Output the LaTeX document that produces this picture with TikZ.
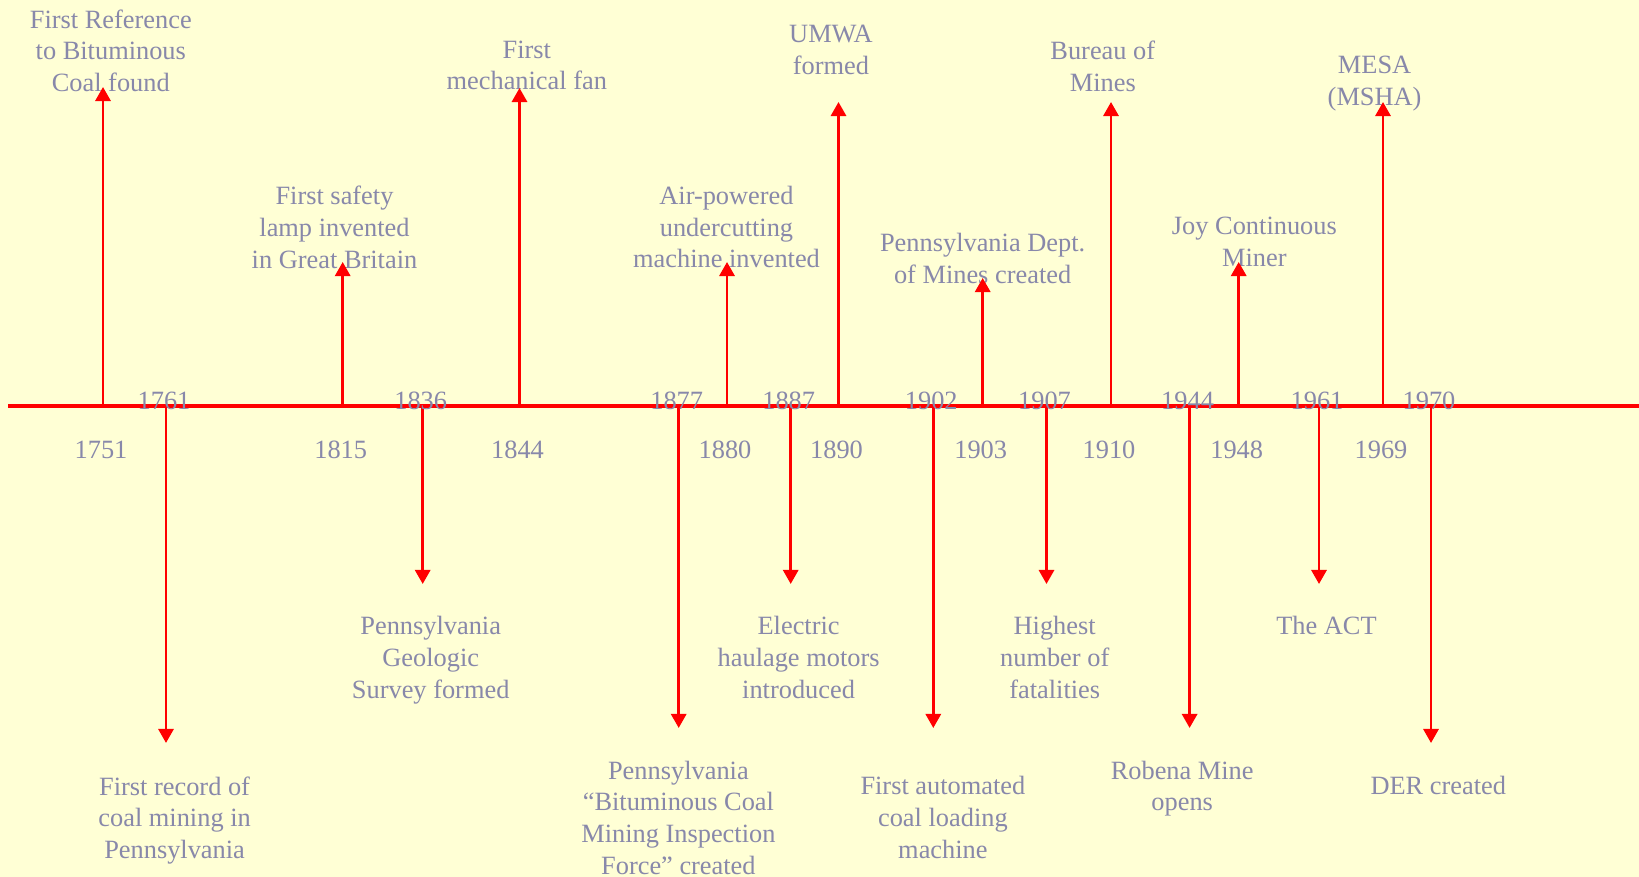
\documentclass[tikz,border=0pt]{standalone}
\usepackage{fontspec}
\setmainfont{Liberation Serif}
\usetikzlibrary{arrows.meta}
\definecolor{paper}{HTML}{FFFFD5}
\definecolor{ink}{HTML}{8888AA}
\tikzset{
	axis/.style = {draw = red, line width = 1.35pt},
	tick/.style = {draw = red, line width = 0.8pt, -{Triangle[length = 4pt, width = 4.3pt]}},
	event/.style = {text = ink, align = center, inner sep = 0pt, anchor = north, font = \fontsize{7.5}{9}\selectfont},
	year/.style = {text = ink, inner sep = 0pt, anchor = base, font = \fontsize{7.5}{9}\selectfont}
}
\begin{document}
\begin{tikzpicture}[x = 0.01cm, y = -0.01cm]
		\fill[paper] (0,0) rectangle (1639,877);
		\useasboundingbox (0,0) rectangle (1639,877);
		\coordinate (start) at (8,406);
		\coordinate (end) at (1639,406);
		\draw[axis] (start) -- (end);
		\foreach \yr/\x/\tip/\lx/\ly/\txt in {
			1751/103/87/110.8/8.8/{First Reference\\to Bituminous\\Coal found},
			1815/342.7/262/334.5/185.5/{First safety\\lamp invented\\in Great Britain},
			1844/519.5/88/526.8/40.1/{First\\mechanical fan},
			1880/727/262/726.5/185.5/{Air-powered\\undercutting\\machine invented},
			1890/838.5/102/831/24.5/{UMWA\\formed},
			1903/982.7/278/982.6/232.5/{Pennsylvania Dept.\\of Mines created},
			1910/1111/102/1102.8/40.1/{Bureau of\\Mines},
			1948/1238.7/262/1254.4/216.8/{Joy Continuous\\Miner},
			1969/1383/102/1374.6/55.8/{MESA\\(MSHA)}}{
			\coordinate (a\yr) at (\x, 406);
			\coordinate (t\yr) at (\x, \tip);
			\node[event] (l\yr) at (\lx, \ly) {\txt};
			\draw[tick] (a\yr) -- (t\yr);
			\node[year] (y\yr) at (\x - 2, 459) {\yr};
			}
		\foreach \yr/\x/\tip/\lx/\ly/\txt in {
			1761/166/743/174.6/776/{First record of\\coal mining in\\Pennsylvania},
			1836/422.7/584/430.7/616/{Pennsylvania\\Geologic\\Survey formed},
			1877/678.7/728/678.4/760.3/{Pennsylvania\\“Bituminous Coal\\Mining Inspection\\Force” created},
			1887/790.7/584/798.6/616/{Electric\\haulage motors\\introduced},
			1902/933.3/728/942.9/776/{First automated\\coal loading\\machine},
			1907/1046.5/584/1054.7/616/{Highest\\number of\\fatalities},
			1944/1189.6/728/1182.2/760.3/{Robena Mine\\opens},
			1961/1319/584/1326.5/616/{The ACT},
			1970/1431/743/1438.3/776/{DER created}}{
			\coordinate (a\yr) at (\x, 406);
			\coordinate (t\yr) at (\x, \tip);
			\node[event] (l\yr) at (\lx, \ly) {\txt};
			\draw[tick] (a\yr) -- (t\yr);
			\node[year] (y\yr) at (\x - 2, 410) {\yr};
			}
\end{tikzpicture}
\end{document}
